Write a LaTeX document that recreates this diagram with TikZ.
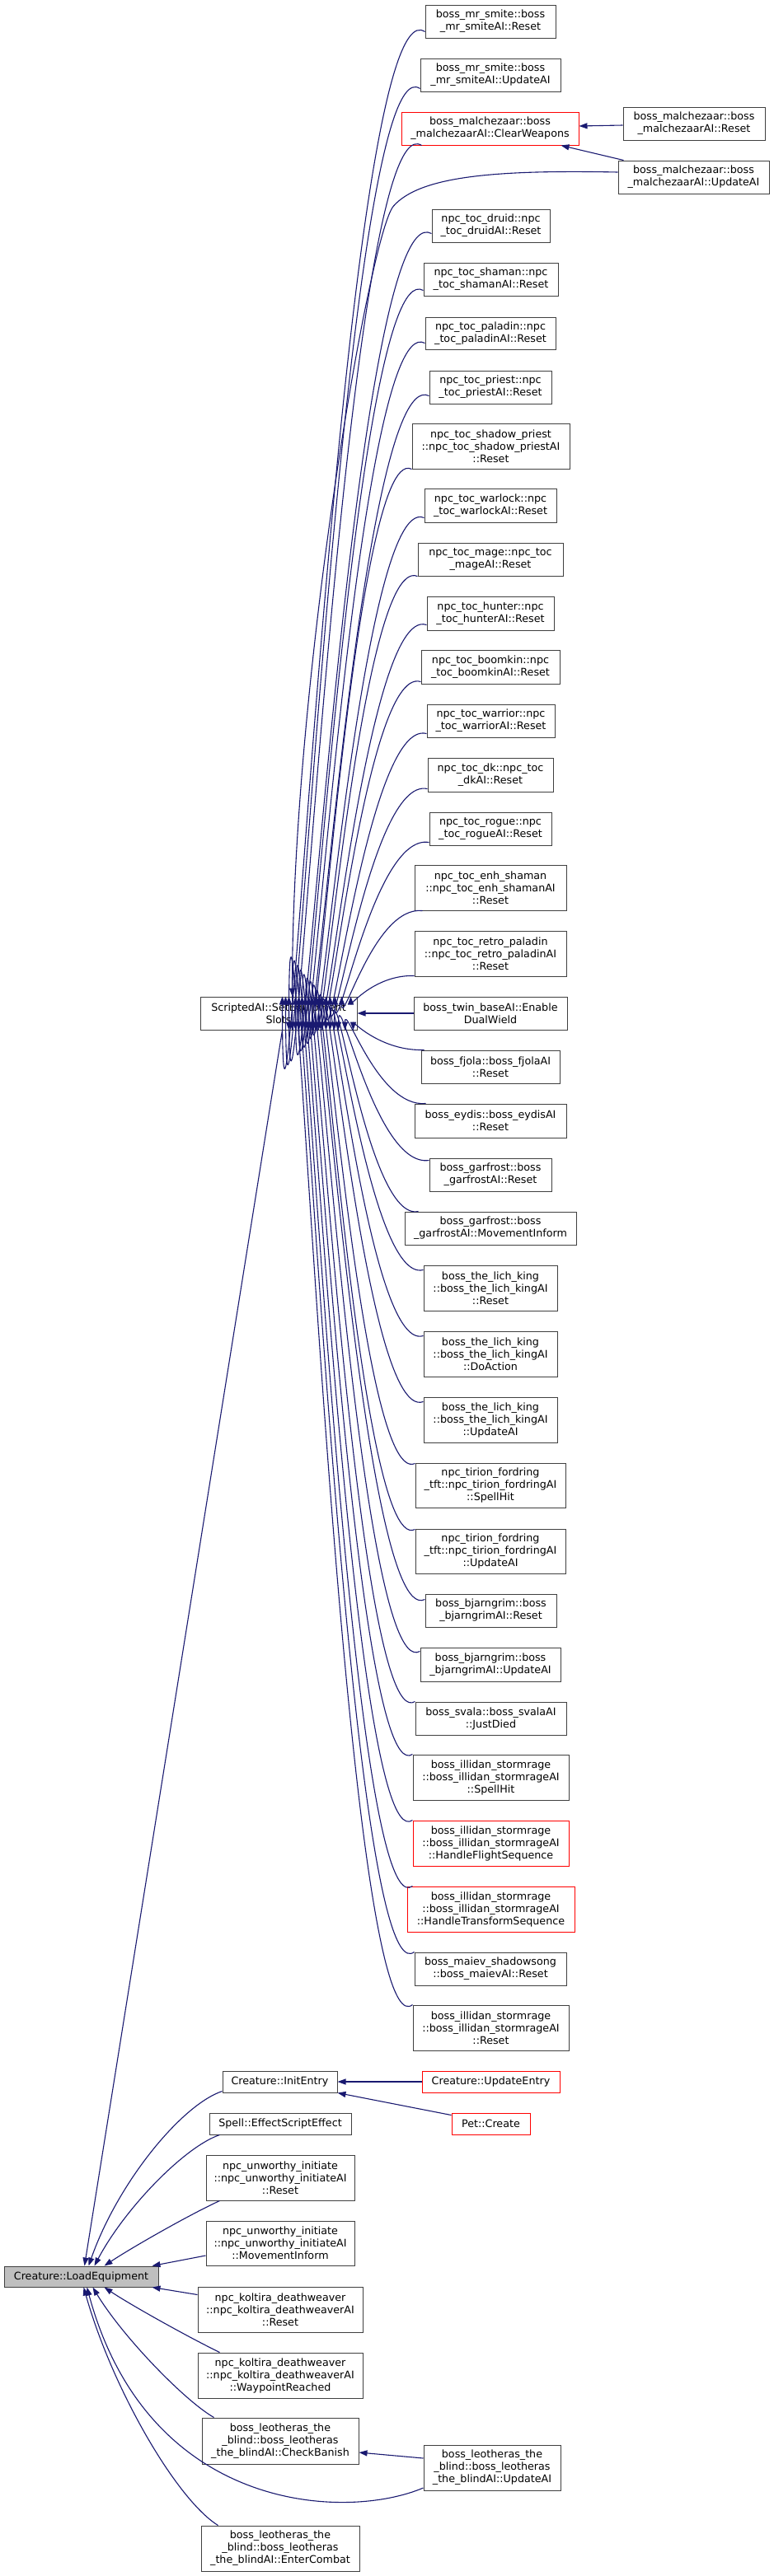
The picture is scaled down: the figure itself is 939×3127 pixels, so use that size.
\documentclass[tikz,border=0pt]{standalone}
\usepackage{fontspec}
\setmainfont{DejaVu Sans}
\usetikzlibrary{arrows.meta,calc}
\definecolor{edgeblue}{HTML}{191970}
\definecolor{bordergray}{HTML}{404040}
\tikzset{
  fn/.style={draw=bordergray, line width=1pt, fill=white, inner sep=0pt, align=center, font=\fontsize{12.7}{15}\selectfont},
  hot/.style={draw=red},
  cur/.style={fill=black!25},
  edge/.style={draw=edgeblue, line width=1.1pt, -{Triangle[length=10pt,width=7pt]}}
}
\newcommand{\mknode}[7]{%
  \pgfmathsetmacro{\mkw}{#4-#2}\pgfmathsetmacro{\mkh}{#5-#3}%
  \pgfmathsetmacro{\mkx}{(#2+#4)/2}\pgfmathsetmacro{\mky}{(#3+#5)/2}%
  \node[fn,#7,minimum width=\mkw pt,minimum height=\mkh pt] (#1) at (\mkx,\mky) {#6};}
\begin{document}
\begin{tikzpicture}[x=1pt,y=-1pt]
\useasboundingbox (0,0) rectangle (939,3127);
\fill[white] (0,0) rectangle (939,3127);

\mknode{le}{5}{2751}{192}{2776}{Creature::LoadEquipment}{cur}
\mknode{sa}{243}{1210}{433}{1250}{ScriptedAI::SetEquipment\\Slots}{}

\mknode{smiteR}{516}{6}{674}{46}{boss\_mr\_smite::boss\\\_mr\_smiteAI::Reset}{}
\mknode{smiteU}{510}{71}{680}{111}{boss\_mr\_smite::boss\\\_mr\_smiteAI::UpdateAI}{}
\mknode{clearW}{487}{136}{702}{176}{boss\_malchezaar::boss\\\_malchezaarAI::ClearWeapons}{hot}
\mknode{malchR}{756}{130}{928}{170}{boss\_malchezaar::boss\\\_malchezaarAI::Reset}{}
\mknode{malchU}{750}{195}{933}{235}{boss\_malchezaar::boss\\\_malchezaarAI::UpdateAI}{}
\mknode{druid}{524}{254}{667}{294}{npc\_toc\_druid::npc\\\_toc\_druidAI::Reset}{}
\mknode{shaman}{514}{319}{677}{359}{npc\_toc\_shaman::npc\\\_toc\_shamanAI::Reset}{}
\mknode{paladin}{516}{385}{674}{424}{npc\_toc\_paladin::npc\\\_toc\_paladinAI::Reset}{}
\mknode{priest}{521}{450}{669}{490}{npc\_toc\_priest::npc\\\_toc\_priestAI::Reset}{}
\mknode{shadow}{500}{514}{691}{569}{npc\_toc\_shadow\_priest\\::npc\_toc\_shadow\_priestAI\\::Reset}{}
\mknode{warlock}{515}{593}{675}{634}{npc\_toc\_warlock::npc\\\_toc\_warlockAI::Reset}{}
\mknode{mage}{507}{659}{683}{699}{npc\_toc\_mage::npc\_toc\\\_mageAI::Reset}{}
\mknode{hunter}{518}{724}{672}{765}{npc\_toc\_hunter::npc\\\_toc\_hunterAI::Reset}{}
\mknode{boomkin}{511}{789}{679}{830}{npc\_toc\_boomkin::npc\\\_toc\_boomkinAI::Reset}{}
\mknode{warrior}{518}{855}{673}{895}{npc\_toc\_warrior::npc\\\_toc\_warriorAI::Reset}{}
\mknode{dk}{519}{920}{671}{961}{npc\_toc\_dk::npc\_toc\\\_dkAI::Reset}{}
\mknode{rogue}{521}{986}{669}{1026}{npc\_toc\_rogue::npc\\\_toc\_rogueAI::Reset}{}
\mknode{enh}{503}{1050}{687}{1105}{npc\_toc\_enh\_shaman\\::npc\_toc\_enh\_shamanAI\\::Reset}{}
\mknode{retro}{503}{1130}{687}{1185}{npc\_toc\_retro\_paladin\\::npc\_toc\_retro\_paladinAI\\::Reset}{}
\mknode{dual}{502}{1210}{688}{1250}{boss\_twin\_baseAI::Enable\\DualWield}{}
\mknode{fjola}{511}{1275}{679}{1315}{boss\_fjola::boss\_fjolaAI\\::Reset}{}
\mknode{eydis}{503}{1340}{687}{1381}{boss\_eydis::boss\_eydisAI\\::Reset}{}
\mknode{garR}{521}{1406}{669}{1446}{boss\_garfrost::boss\\\_garfrostAI::Reset}{}
\mknode{garMI}{491}{1471}{699}{1511}{boss\_garfrost::boss\\\_garfrostAI::MovementInform}{}
\mknode{lichR}{514}{1536}{676}{1591}{boss\_the\_lich\_king\\::boss\_the\_lich\_kingAI\\::Reset}{}
\mknode{lichD}{514}{1616}{676}{1671}{boss\_the\_lich\_king\\::boss\_the\_lich\_kingAI\\::DoAction}{}
\mknode{lichU}{514}{1696}{676}{1751}{boss\_the\_lich\_king\\::boss\_the\_lich\_kingAI\\::UpdateAI}{}
\mknode{tirS}{504}{1776}{686}{1830}{npc\_tirion\_fordring\\\_tft::npc\_tirion\_fordringAI\\::SpellHit}{}
\mknode{tirU}{504}{1856}{686}{1910}{npc\_tirion\_fordring\\\_tft::npc\_tirion\_fordringAI\\::UpdateAI}{}
\mknode{bjR}{516}{1935}{675}{1975}{boss\_bjarngrim::boss\\\_bjarngrimAI::Reset}{}
\mknode{bjU}{510}{2000}{680}{2041}{boss\_bjarngrim::boss\\\_bjarngrimAI::UpdateAI}{}
\mknode{svala}{504}{2066}{687}{2106}{boss\_svala::boss\_svalaAI\\::JustDied}{}
\mknode{ilSH}{501}{2130}{690}{2185}{boss\_illidan\_stormrage\\::boss\_illidan\_stormrageAI\\::SpellHit}{}
\mknode{ilF}{501}{2210}{690}{2265}{boss\_illidan\_stormrage\\::boss\_illidan\_stormrageAI\\::HandleFlightSequence}{hot}
\mknode{ilT}{494}{2290}{697}{2345}{boss\_illidan\_stormrage\\::boss\_illidan\_stormrageAI\\::HandleTransformSequence}{hot}
\mknode{maiev}{503}{2370}{687}{2410}{boss\_maiev\_shadowsong\\::boss\_maievAI::Reset}{}
\mknode{ilR}{501}{2434}{690}{2489}{boss\_illidan\_stormrage\\::boss\_illidan\_stormrageAI\\::Reset}{}
\mknode{upd}{512}{2514}{679}{2540}{Creature::UpdateEntry}{hot}
\mknode{pet}{548}{2565}{643}{2591}{Pet::Create}{hot}
\mknode{init}{270}{2514}{409}{2540}{Creature::InitEntry}{}
\mknode{spell}{254}{2565}{426}{2591}{Spell::EffectScriptEffect}{}
\mknode{unR}{250}{2616}{430}{2671}{npc\_unworthy\_initiate\\::npc\_unworthy\_initiateAI\\::Reset}{}
\mknode{unM}{250}{2696}{430}{2750}{npc\_unworthy\_initiate\\::npc\_unworthy\_initiateAI\\::MovementInform}{}
\mknode{kolR}{240}{2776}{440}{2831}{npc\_koltira\_deathweaver\\::npc\_koltira\_deathweaverAI\\::Reset}{}
\mknode{kolW}{240}{2856}{440}{2911}{npc\_koltira\_deathweaver\\::npc\_koltira\_deathweaverAI\\::WaypointReached}{}
\mknode{leoC}{245}{2935}{435}{2991}{boss\_leotheras\_the\\\_blind::boss\_leotheras\\\_the\_blindAI::CheckBanish}{}
\mknode{leoU}{514}{2968}{680}{3023}{boss\_leotheras\_the\\\_blind::boss\_leotheras\\\_the\_blindAI::UpdateAI}{}
\mknode{leoE}{244}{3066}{436}{3121}{boss\_leotheras\_the\\\_blind::boss\_leotheras\\\_the\_blindAI::EnterCombat}{}

% callers above ScriptedAI
\foreach \t/\ox/\oy/\ax in {smiteR/0/-8/100, smiteU/0/-4/104, clearW/25/0/108, druid/0/-11/116, shaman/0/-7/120, paladin/0/-8/124, priest/0/-10/128, shadow/0/0/132, warlock/0/-6/136, mage/0/0/140, hunter/0/-7/144, boomkin/0/-3/148, warrior/0/-5/153, dk/0/-4/158, rogue/0/-4/164, enh/10/0/172, retro/0/-1/183}{
  \draw[edge] let \p1=($(\t.south west)+(\ox,\oy)$), \p2=($(sa.north west)+(\ax,0)$) in
    (\p1) .. controls +({-0.6*(\x1-\x2)},{0.06*(\y1-\y2)}) and +(0,{-0.4*(\y1-\y2)}) .. (\p2);
}
% callers below ScriptedAI
\foreach \t/\ox/\oy/\ax in {fjola/4/0/186, eydis/14/0/176, garR/0/3/168, garMI/17/0/163, lichR/0/6/158, lichD/0/6/153, lichU/0/6/148, tirS/0/1/144, tirU/0/1/140, bjR/0/7/136, bjU/0/5/132, svala/0/0/128, ilSH/0/0/124, ilF/0/0/120, ilT/7/0/116, maiev/0/0/112, ilR/0/0/108}{
  \draw[edge] let \p1=($(\t.north west)+(\ox,\oy)$), \p2=($(sa.south west)+(\ax,0)$) in
    (\p1) .. controls +({-0.6*(\x1-\x2)},{0.06*(\y1-\y2)}) and +(0,{-0.4*(\y1-\y2)}) .. (\p2);
}
\draw[edge] (dual.west) -- (sa.east);
\draw[edge] ($(malchU.west)+(0,-6)$) .. controls +(-150,-3) and +(32,-36) .. ($(malchU.west)+(-272,35)$)
   .. controls +(-29,32) and +(0,-380) .. ($(sa.north west)+(112,0)$);

% malchezaar
\draw[edge] ($(malchR.west)+(0,2)$) -- ($(clearW.east)+(0,-3)$);
\draw[edge] ($(malchU.north west)+(7,0)$) -- ($(clearW.south east)+(-22,0)$);

% InitEntry
\draw[edge] (upd.west) -- (init.east);
\draw[edge] ($(pet.north west)+(0,3)$) -- (init.south east);

% LoadEquipment callers
\draw[edge] ($(sa.south west)+(100,0)$) -- ($(le.north west)+(98,0)$);
\draw[edge] ($(init.south west)+(0,-2)$) .. controls +(-50,17) and +(35,-100) .. ($(le.north west)+(103,0)$);
\draw[edge] ($(spell.south west)+(13,0)$) .. controls +(-42,14) and +(37,-70) .. ($(le.north west)+(110,0)$);
\draw[edge] ($(unR.south west)+(17,0)$) .. controls +(-37,17) and +(33,-22) .. ($(le.north west)+(122,0)$);
\draw[edge] ($(unM.west)+(0,15)$) -- ($(le.north west)+(180,0)$);
\draw[edge] ($(kolR.north west)+(0,10)$) -- ($(le.south west)+(180,0)$);
\draw[edge] ($(kolW.north west)+(27,0)$) .. controls +(-37,-18) and +(33,22) .. ($(le.south west)+(122,0)$);
\draw[edge] ($(leoC.north west)+(15,0)$) .. controls +(-35,-20) and +(37,61) .. ($(le.south west)+(108,0)$);
\draw[edge] ($(leoU.west)+(0,24.5)$) .. controls +(-94,40) and +(74,274) .. ($(le.south west)+(101,0)$);
\draw[edge] ($(leoE.north west)+(21,0)$) .. controls +(-50,-31) and +(35,124) .. ($(le.south west)+(97,0)$);
\draw[edge] ($(leoU.west)+(0,-11.5)$) -- ($(leoC.east)+(0,14)$);
\end{tikzpicture}
\end{document}
